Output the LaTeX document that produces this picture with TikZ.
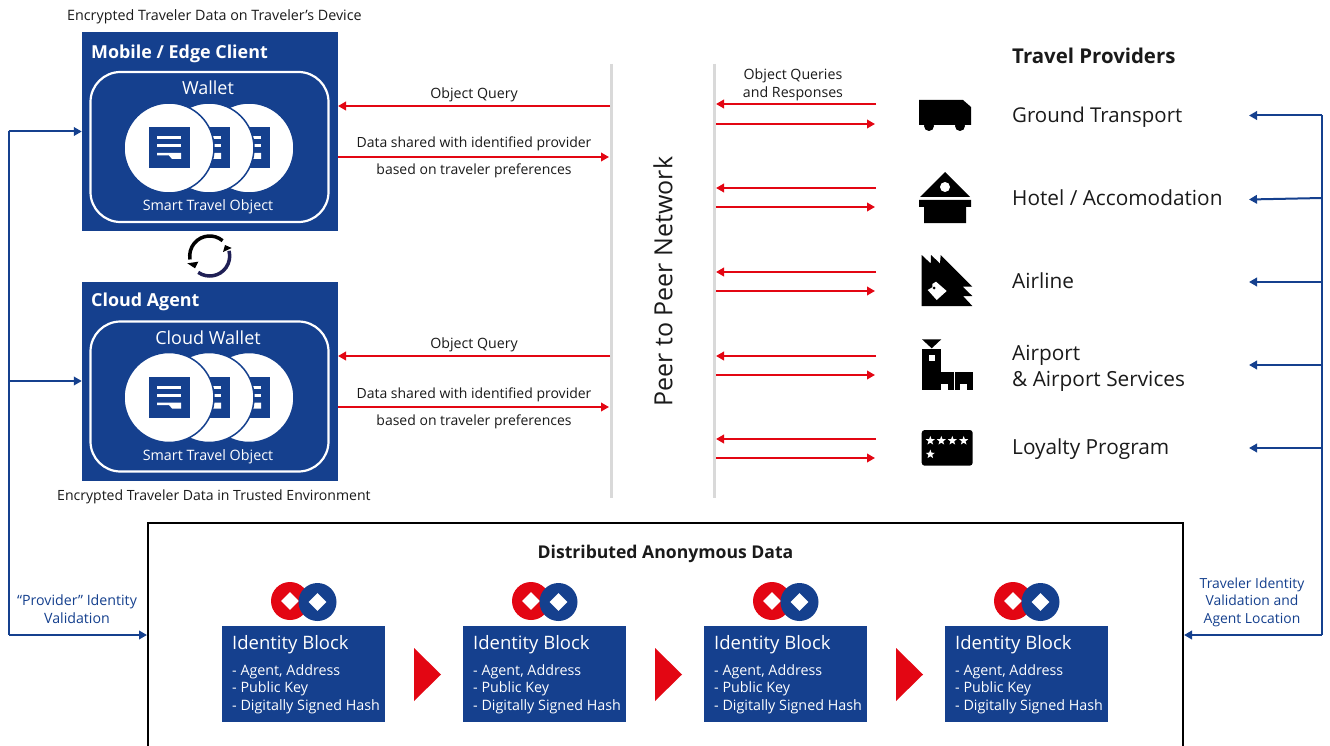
\documentclass[tikz,border=0pt]{standalone}
\usepackage{fontspec}
\setmainfont{Open Sans}
\usetikzlibrary{arrows.meta,shapes.geometric}
\definecolor{bboxc}{HTML}{15408E}
\definecolor{redc}{HTML}{E30613}
\definecolor{greyc}{HTML}{D9D9D9}
\definecolor{txtc}{HTML}{1A1A1A}
\definecolor{navyc}{HTML}{1F1F55}
\newcommand{\fs}[2]{\fontsize{#1}{#2}\selectfont}
\tikzset{
  lbl/.style={inner sep=0pt,text=txtc,anchor=base},
  lblw/.style={inner sep=0pt,text=txtc,anchor=base west},
  small/.style={font=\fs{14.2}{17.5}},
  prov/.style={lblw,font=\fs{20.8}{26}},
  whitet/.style={inner sep=0pt,text=white,anchor=base},
  bluebox/.style={fill=bboxc,draw=none,minimum width=256pt,minimum height=199pt,inner sep=0pt},
  wallet/.style={draw=white,line width=2.2pt,rounded corners=30pt,minimum width=238pt,minimum height=150pt,inner sep=0pt},
  obj/.style={circle,fill=white,draw=bboxc,line width=1.5pt,minimum size=90pt,inner sep=0pt},
  rarrow/.style={draw=redc,line width=2pt,-{Triangle[length=8pt,width=8.5pt]}},
  barrow/.style={draw=bboxc,line width=2pt,-{Triangle[length=8pt,width=8.5pt]}},
  bline/.style={draw=bboxc,line width=2pt},
  netline/.style={draw=greyc,line width=3pt},
  idblock/.style={fill=bboxc,minimum width=163pt,minimum height=96pt,inner sep=0pt},
  coin/.style={circle,minimum size=38pt,inner sep=0pt},
  gem/.style={diamond,fill=white,minimum size=18pt,inner sep=0pt},
  flow/.style={fill=redc,draw=none},
  icon/.style={fill=black,draw=none},
  star5/.style={star,star points=5,star point ratio=2.4,fill=white,minimum size=9.5pt,inner sep=0pt}
}
% document icon, x = left edge, y = top edge
\newcommand{\docicon}[2]{%
  \fill[bboxc] (#1,#2) rectangle ++(41,41);
  \fill[white] (#1+8,#2+9) rectangle ++(24,3);
  \fill[white] (#1+8,#2+17) rectangle ++(24,3);
  \fill[white] (#1+8,#2+26) -- ++(24,0) -- ++(0,6) -- ++(-9,0) -- ++(-3,-3.5) -- (#1+8,#2+28.5) -- cycle;
}
% #1 prefix, #2 y shift, #3 title, #4 wallet name, #5 title baseline
\newcommand{\agentbox}[5]{%
  \node[bluebox] (#1box) at (210,131.5+#2) {};
  \node[wallet] (#1wallet) at (209.5,147+#2) {};
  \node[obj] (#1c) at (249,148+#2) {};
  \docicon{229}{127+#2}
  \node[obj] (#1b) at (209,148+#2) {};
  \docicon{189}{127+#2}
  \node[obj] (#1a) at (169,148+#2) {};
  \docicon{149}{127+#2}
  \node[whitet,anchor=base west,font=\bfseries\fs{17.9}{20}] (#1title) at (91,#5) {#3};
  \node[whitet,font=\fs{18}{20}] (#1name) at (208,95+#2) {#4};
  \node[whitet,font=\fs{14.3}{16}] (#1obj) at (208,211+#2) {Smart Travel Object};
}
% #1 prefix, #2 x shift
\newcommand{\identityblock}[2]{%
  \node[coin,fill=redc] (#1r) at (290+#2,601) {};
  \node[gem] (#1rg) at (#1r) {};
  \node[coin,fill=bboxc] (#1l) at (317.5+#2,602) {};
  \node[gem] (#1lg) at (#1l) {};
  \node[idblock] (#1) at (303.5+#2,674) {};
  \node[whitet,anchor=base west,font=\fs{18.5}{20}] (#1h) at (232+#2,649.5) {Identity Block};
  \node[whitet,anchor=base west,font=\fs{14.3}{17.5},align=left] (#1t) at (232+#2,710) {- Agent, Address\\- Public Key\\- Digitally Signed Hash};
}
\begin{document}
\begin{tikzpicture}[x=1pt,y=-1pt]
\clip (0,0) rectangle (1330,746);
\fill[white] (0,0) rectangle (1330,746);

% agent boxes
\agentbox{m}{0}{Mobile / Edge Client}{Wallet}{58.5}
\agentbox{c}{249.5}{Cloud Agent}{Cloud Wallet}{306.5}
\node[lblw,font=\fs{14.3}{17.5}] (topnote) at (67,21) {Encrypted Traveler Data on Traveler's Device};
\node[lblw,font=\fs{14.05}{17.5}] (botnote) at (57,500) {Encrypted Traveler Data in Trusted Environment};

% sync icon
\draw[black,line width=3.5pt] (209.7,256) ++(-50:20) arc[start angle=-50,end angle=-190,radius=20];
\draw[navyc,line width=3.5pt] (209.7,256) ++(125:20) arc[start angle=125,end angle=-15,radius=20];
\fill[black] (187.3,263.3) -- (198.3,261.7) -- (195,268.3) -- cycle;
\fill[black] (223,252) -- (231.7,248) -- (225,245) -- cycle;

% network lines
\coordinate (n1t) at (611,64); \coordinate (n1b) at (611,498);
\coordinate (n2t) at (714.5,64); \coordinate (n2b) at (714.5,498);
\draw[netline] (n1t) -- (n1b);
\draw[netline] (n2t) -- (n2b);
\node[inner sep=0pt,text=txtc,rotate=90,font=\fs{25}{28}] (p2p) at (663,281.5) {Peer to Peer Network};

% left red arrows
\coordinate (mqS) at (610,106); \coordinate (mqE) at (338,106);
\coordinate (mdS) at (338,157); \coordinate (mdE) at (609,157);
\coordinate (cqS) at (610,356); \coordinate (cqE) at (338,356);
\coordinate (cdS) at (338,407); \coordinate (cdE) at (609,407);
\draw[rarrow] (mqS) -- (mqE);
\draw[rarrow] (mdS) -- (mdE);
\draw[rarrow] (cqS) -- (cqE);
\draw[rarrow] (cdS) -- (cdE);
\node[lbl,small] (mql) at (474,98.5) {Object Query};
\node[lbl,align=center,font=\fs{14}{27}] (mdl) at (474,175) {Data shared with identified provider\\based on traveler preferences};
\node[lbl,small] (cql) at (474,348.5) {Object Query};
\node[lbl,align=center,font=\fs{14}{27}] (cdl) at (474,425) {Data shared with identified provider\\based on traveler preferences};

% right red arrows
\foreach \n/\ya/\yb in {a/104/124,b/188/207,c/272/291,d/356/375,e/439/458}{
  \coordinate (\n1) at (876,\ya); \coordinate (\n2) at (716,\ya);
  \coordinate (\n3) at (716,\yb); \coordinate (\n4) at (875,\yb);
  \draw[rarrow] (\n1) -- (\n2);
  \draw[rarrow] (\n3) -- (\n4);
}
\node[lbl,small,align=center] (oqr) at (793,97.5) {Object Queries\\and Responses};

% providers
\node[lblw,font=\bfseries\fs{20.4}{22}] (tp) at (1012,63.5) {Travel Providers};
\node[lblw,font=\fs{20.4}{26}] (gt) at (1012,122.5) {Ground Transport};
\node[prov] (ho) at (1012,205) {Hotel / Accomodation};
\node[prov] (ai) at (1012,288) {Airline};
\node[prov,align=left] (ap) at (1012,386) {Airport\\\& Airport Services};
\node[prov] (lo) at (1012,454) {Loyalty Program};

% truck
\fill[icon] (919,100) -- (963,100) -- (971,107) -- (971,125) -- (919,125) -- cycle;
\fill[icon] (929,126) circle (5);
\fill[icon] (960,126) circle (5);
% hotel
\fill[icon] (945,172) -- (970,197) -- (920,197) -- cycle;
\fill[white] (945,187) circle (5);
\fill[icon] (919,200) -- (971,200) -- (971,207) -- (966,207) -- (966,223) -- (924,223) -- (924,207) -- (919,207) -- cycle;
% airline
\fill[icon] (921.7,255) -- (930.7,263.5) -- (931,255) -- (940,263.5) -- (940.7,255) -- (972.3,286.7) -- (962.7,286.7) -- (972.3,296) -- (963,296) -- (972.3,306) -- (921.7,306) -- cycle;
\fill[white] (927.7,290) -- (932.3,287.3) -- (932.3,284) -- (936,281.7) -- (946.7,291) -- (936.7,300) -- cycle;
\fill[icon] (934,288) circle (1.5);
% airport
\fill[icon] (922,339.3) -- (941.3,339.3) -- (931.7,348.3) -- cycle;
\fill[icon] (921.7,349.3) rectangle (941.3,390);
\fill[icon] (941.3,371.7) rectangle (972.7,390);
\fill[white] (929,355) rectangle (935,361);
\fill[white] (941.3,384) rectangle (947.7,390);
\fill[white] (960,384) rectangle (966.7,390);
\draw[white,line width=.5pt] (954.3,372) -- (954.3,390);
% loyalty card
\fill[icon,rounded corners=3pt] (921.7,430) rectangle (972.7,465.7);
\node[star5] (s1) at (930.3,440.7) {};
\node[star5] (s2) at (941.3,440.7) {};
\node[star5] (s3) at (952.3,440.7) {};
\node[star5] (s4) at (963.7,440.7) {};
\node[star5] (s5) at (930.3,454.3) {};

% data frame
\coordinate (fbl) at (148,750); \coordinate (ftl) at (148,523);
\coordinate (ftr) at (1183,523); \coordinate (fbr) at (1183,750);
\draw[black,line width=2pt] (fbl) -- (ftl) -- (ftr) -- (fbr);
\node[lbl,font=\bfseries\fs{17.6}{20}] (dad) at (665.5,558) {Distributed Anonymous Data};
\identityblock{i}{0}
\identityblock{j}{241}
\identityblock{k}{482}
\identityblock{l}{723}
\foreach \x/\n in {0/f1,241/f2,482/f3}{
  \fill[flow] (414+\x,648) -- (441+\x,674.5) -- (414+\x,701) -- cycle;
}

% left identity validation
\coordinate (lt) at (8.5,131.5); \coordinate (lb) at (8.5,635);
\coordinate (lm) at (8.5,381);
\coordinate (fl) at (147,635);
\draw[bline] (lt) -- (lb);
\draw[barrow] (lt) -- (mbox.west);
\draw[barrow] (lm) -- (cbox.west);
\draw[barrow] (lb) -- (fl);
\node[inner sep=0pt,text=bboxc,anchor=base,align=center,font=\fs{14.2}{17.5}] (pv) at (77,623) {“Provider” Identity\\Validation};

% right identity validation
\coordinate (rt) at (1322,115.5); \coordinate (rb) at (1322,635);
\coordinate (t1) at (1249,115.5);
\coordinate (r2) at (1322,198); \coordinate (t2) at (1249,199.5);
\coordinate (r3) at (1322,282); \coordinate (t3) at (1249,282);
\coordinate (r4) at (1322,365); \coordinate (t4) at (1249,365);
\coordinate (r5) at (1322,448); \coordinate (t5) at (1249,448);
\coordinate (fr) at (1184,635);
\draw[bline] (rt) -- (rb);
\draw[barrow] (rt) -- (t1);
\draw[barrow] (r2) -- (t2);
\draw[barrow] (r3) -- (t3);
\draw[barrow] (r4) -- (t4);
\draw[barrow] (r5) -- (t5);
\draw[barrow] (rb) -- (fr);
\node[inner sep=0pt,text=bboxc,anchor=base,align=center,font=\fs{13.9}{17.5}] (tv) at (1252,623) {Traveler Identity\\Validation and\\Agent Location};
\end{tikzpicture}
\end{document}
